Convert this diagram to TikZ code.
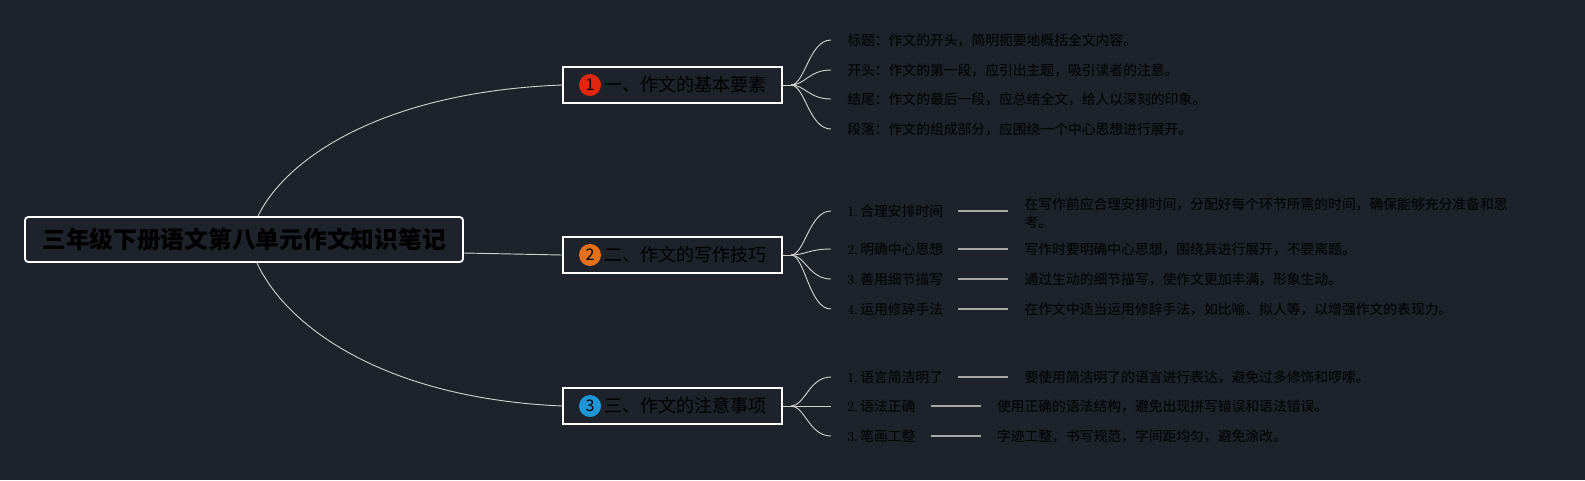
\documentclass[tikz,border=0pt]{standalone}
\usepackage{fontspec}
\newfontfamily\cjk{Noto Sans CJK SC}
\usetikzlibrary{calc}
\definecolor{bg}{HTML}{1D222B}
\definecolor{numred}{HTML}{E2260E}
\definecolor{numorange}{HTML}{E4701A}
\definecolor{numblue}{HTML}{1E96D6}
\definecolor{conncol}{HTML}{D0D0D0}
\definecolor{dashcol}{HTML}{A8A8A8}
\begin{document}
\begin{tikzpicture}[x=0.75pt,y=-0.75pt,
  every node/.style={font=\cjk, text=black},
  rootbox/.style={draw=white, line width=1.4pt, rounded corners=2.5pt, minimum width=328.5pt, minimum height=33.75pt, inner sep=0pt, font=\cjk\bfseries\fontsize{17.8}{20}\selectfont},
  branchbox/.style={draw=white, line width=1.4pt, minimum width=164.25pt, minimum height=27pt, inner sep=0pt},
  numcirc/.style={circle, minimum size=16.5pt, inner sep=0pt, font=\cjk\fontsize{12}{12}\selectfont},
  branchtext/.style={anchor=west, inner sep=0pt, font=\cjk\fontsize{13.5}{15}\selectfont},
  leaf/.style={anchor=west, inner sep=0pt, align=left, font=\cjk\fontsize{10.35}{13}\selectfont},
  conn/.style={draw=conncol, line width=0.7pt},
  dashline/.style={draw=dashcol, line width=1.3pt},
]
\fill[bg] (0,0) rectangle (1585,480);
\useasboundingbox (0,0) rectangle (1585,480);

% root
\node[rootbox] (root) at (244,239.5) {三年级下册语文第八单元作文知识笔记};

% branch boxes
\node[branchbox] (b1) at (672.5,85) {};
\node[numcirc, fill=numred] (c1) at (590,85) {1};
\node[branchtext] (t1) at (604,85) {一、作文的基本要素};

\node[branchbox] (b2) at (672.5,255) {};
\node[numcirc, fill=numorange] (c2) at (590,255) {2};
\node[branchtext] (t2) at (604,255) {二、作文的写作技巧};

\node[branchbox] (b3) at (672.5,406) {};
\node[numcirc, fill=numblue] (c3) at (590,406) {3};
\node[branchtext] (t3) at (604,406) {三、作文的注意事项};

% root connectors
\draw[conn] ($(root.north)+(14,0)$) .. controls (285,160) and (380,92) .. (b1.west);
\draw[conn] ($(root.east)+(0,13.5)$) -- (b2.west);
\draw[conn] ($(root.south)+(13,0)$) .. controls (285,324) and (380,398) .. (b3.west);

% section 1 leaves
\node[leaf] (l11) at (847,40) {标题：作文的开头，简明扼要地概括全文内容。};
\node[leaf] (l12) at (847,70) {开头：作文的第一段，应引出主题，吸引读者的注意。};
\node[leaf] (l13) at (847,99) {结尾：作文的最后一段，应总结全文，给人以深刻的印象。};
\node[leaf] (l14) at (847,129) {段落：作文的组成部分，应围绕一个中心思想进行展开。};

\draw[conn] (b1.east) -- ++(8,0) coordinate (j1);
\foreach \n in {l11,l12,l13,l14}{
  \draw[conn] (j1) .. controls ($(j1)+(14,0)$) and ($(\n.west)+(-38,0)$) .. ($(\n.west)+(-16,0)$);
}

% section 2 leaves
\node[leaf] (l21) at (847,211) {{\rmfamily 1.\,}合理安排时间};
\node[leaf] (l22) at (847,249) {{\rmfamily 2.\,}明确中心思想};
\node[leaf] (l23) at (847,279) {{\rmfamily 3.\,}善用细节描写};
\node[leaf] (l24) at (847,309) {{\rmfamily 4.\,}运用修辞手法};

\draw[conn] (b2.east) -- ++(8,0) coordinate (j2);
\foreach \n in {l21,l22,l23,l24}{
  \draw[conn] (j2) .. controls ($(j2)+(14,0)$) and ($(\n.west)+(-38,0)$) .. ($(\n.west)+(-16,0)$);
  \coordinate (\n s) at ($(\n.east)+(15,0)$);
  \coordinate (\n e) at ($(\n.east)+(65,0)$);
  \draw[dashline] (\n s) -- (\n e);
}
\node[leaf] (d21) at ($(l21e)+(16,2)$) {在写作前应合理安排时间，分配好每个环节所需的时间，确保能够充分准备和思\\考。};
\node[leaf] (d22) at ($(l22e)+(16,0)$) {写作时要明确中心思想，围绕其进行展开，不要离题。};
\node[leaf] (d23) at ($(l23e)+(16,0)$) {通过生动的细节描写，使作文更加丰满，形象生动。};
\node[leaf] (d24) at ($(l24e)+(16,0)$) {在作文中适当运用修辞手法，如比喻、拟人等，以增强作文的表现力。};

% section 3 leaves
\node[leaf] (l31) at (847,377) {{\rmfamily 1.\,}语言简洁明了};
\node[leaf] (l32) at (847,406) {{\rmfamily 2.\,}语法正确};
\node[leaf] (l33) at (847,436) {{\rmfamily 3.\,}笔画工整};

\draw[conn] (b3.east) -- ++(8,0) coordinate (j3);
\foreach \n in {l31,l32,l33}{
  \draw[conn] (j3) .. controls ($(j3)+(14,0)$) and ($(\n.west)+(-38,0)$) .. ($(\n.west)+(-16,0)$);
  \coordinate (\n s) at ($(\n.east)+(15,0)$);
  \coordinate (\n e) at ($(\n.east)+(65,0)$);
  \draw[dashline] (\n s) -- (\n e);
}
\node[leaf] (d31) at ($(l31e)+(16,0)$) {要使用简洁明了的语言进行表达，避免过多修饰和啰嗦。};
\node[leaf] (d32) at ($(l32e)+(16,0)$) {使用正确的语法结构，避免出现拼写错误和语法错误。};
\node[leaf] (d33) at ($(l33e)+(16,0)$) {字迹工整，书写规范，字间距均匀，避免涂改。};
\end{tikzpicture}
\end{document}
